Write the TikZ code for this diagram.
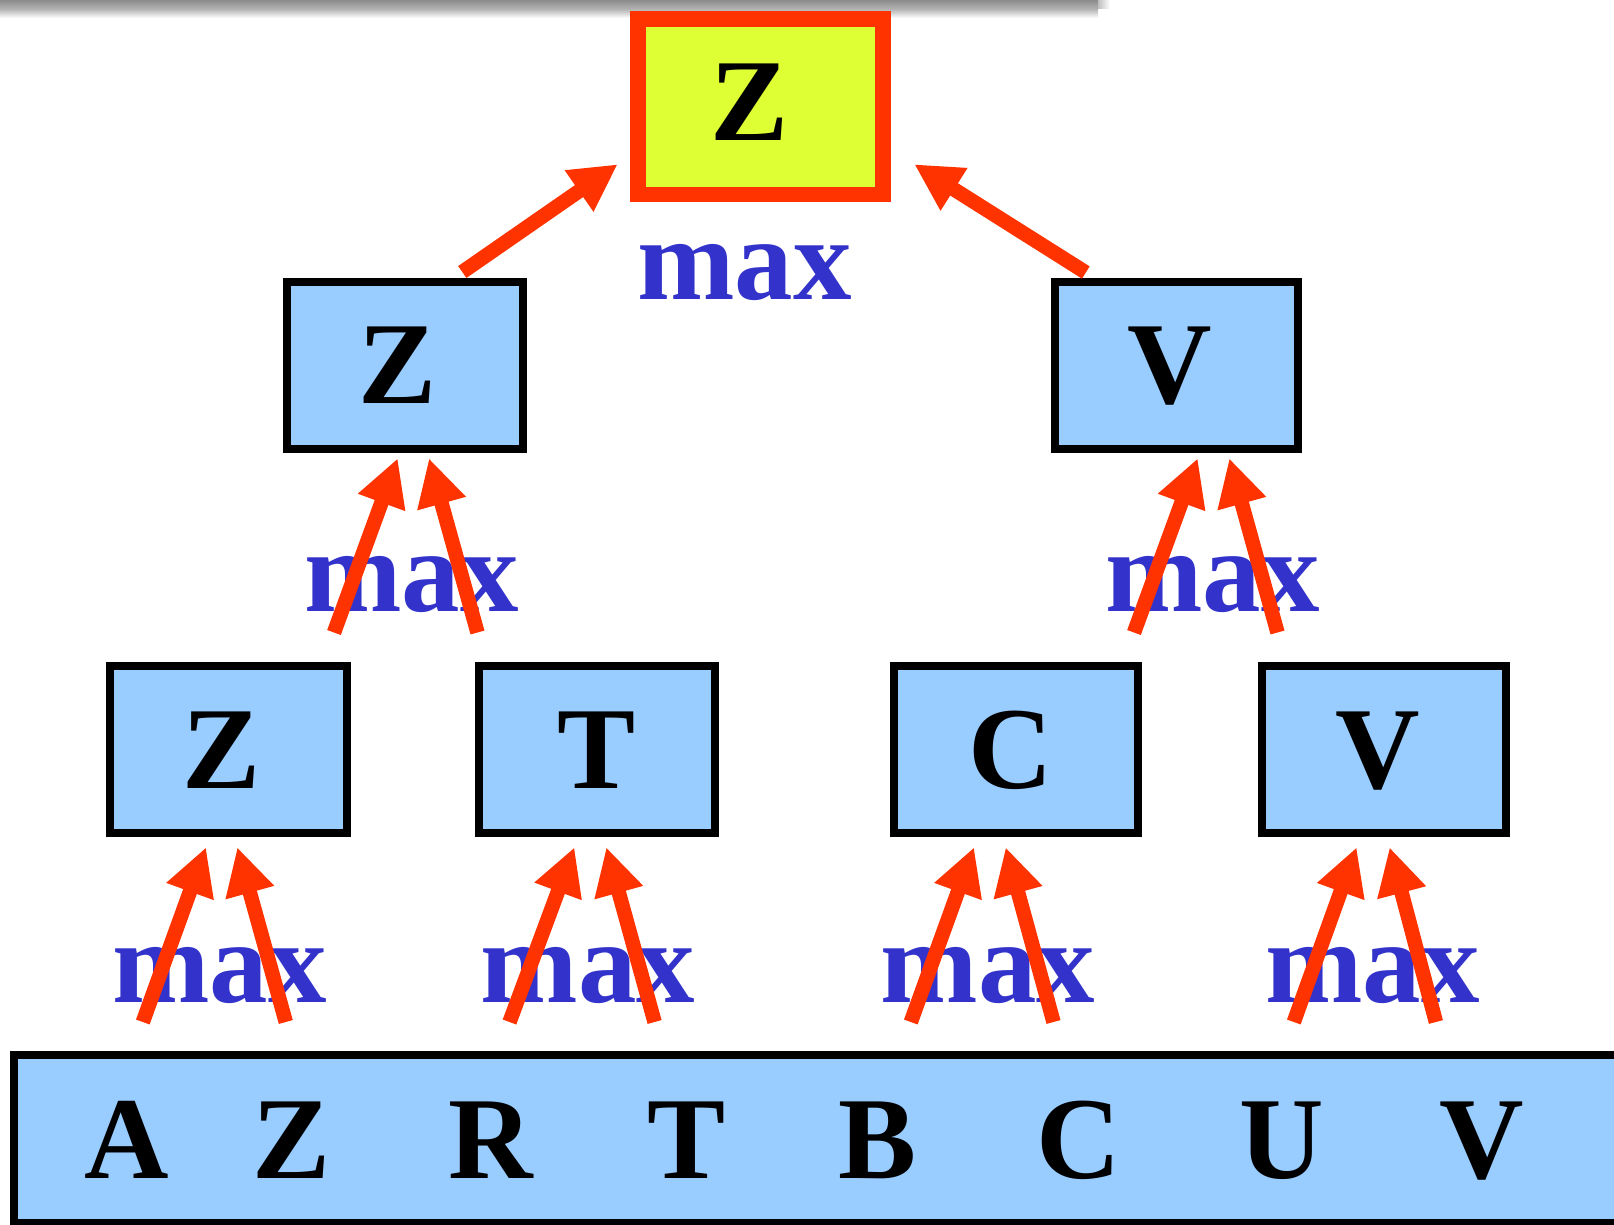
\documentclass[tikz,border=0pt]{standalone}
\usepackage{fontspec}
\setmainfont{Liberation Serif}
\usetikzlibrary{arrows.meta}
\definecolor{boxblue}{RGB}{153,204,255}
\definecolor{rootfill}{RGB}{221,255,51}
\definecolor{arrowred}{RGB}{255,51,0}
\definecolor{maxblue}{RGB}{51,51,204}

\begin{document}
\begin{tikzpicture}[x=1pt,y=-1pt,
  box/.style={draw=black, line width=8pt, fill=boxblue, inner sep=0pt, outer sep=0pt, minimum height=167pt},
  rootbox/.style={draw=arrowred, line width=15.7pt, fill=rootfill, inner sep=0pt, outer sep=0pt,
                  minimum width=245.2pt, minimum height=175.7pt},
  glyph/.style={font=\fontsize{117}{117}\selectfont\bfseries, anchor=base, inner sep=0pt},
  oplabel/.style={glyph, text=maxblue},
  uparrow/.style={draw=arrowred, line width=14.5pt, -{Triangle[length=47pt,width=47pt]}},
]
\useasboundingbox (0,0) rectangle (1614,1225);

% soft shadow along the top edge
\shade[top color=black!45, bottom color=white, middle color=black!30] (0,0) rectangle (1098,18);
\shade[left color=black!25, right color=white] (1098,0) rectangle (1110,9);

% tree of maxima
\node[rootbox] (root) at (760.4,106.65) {};
\node[box, minimum width=236pt]   (m1) at (405,365.5) {};
\node[box, minimum width=242.5pt] (m2) at (1176.25,365.5) {};
\node[box, minimum width=237pt]   (b1) at (228.5,749.3) {};
\node[box, minimum width=236pt]   (b2) at (596.5,749.3) {};
\node[box, minimum width=243.2pt] (b3) at (1015.9,749.3) {};
\node[box, minimum width=244.2pt] (b4) at (1383.9,749.3) {};
\node[box, minimum width=1626pt, minimum height=168pt, line width=7.7pt] (bar) at (827,1139) {};

% letters in the boxes
\node[glyph] (rootZ) at (749.5,141) {Z};
\node[glyph] (m1Z) at (397.8,403.5) {Z};
\node[glyph] (m2V) at (1169.8,403.5) {V};
\node[glyph] (b1Z) at (221.8,788.5) {Z};
\node[glyph] (b2T) at (597,788.5) {T};
\node[glyph] (b3C) at (1010.3,788.5) {C};
\node[glyph] (b4V) at (1377.7,788.5) {V};

% input sequence
\node[glyph] (lA) at (126.6,1178.5) {A};
\node[glyph] (lZ) at (291.3,1178.5) {Z};
\node[glyph] (lR) at (491,1178.5) {R};
\node[glyph] (lT) at (686.5,1178.5) {T};
\node[glyph] (lB) at (878,1178.5) {B};
\node[glyph] (lC) at (1078.7,1178.5) {C};
\node[glyph] (lU) at (1281.5,1178.5) {U};
\node[glyph] (lV) at (1482.2,1178.5) {V};

% operator labels
\node[oplabel] (op0) at (744.3,299.3) {max};
\node[oplabel] (op1) at (411.7,611.7) {max};
\node[oplabel] (op2) at (1212.3,611.7) {max};
\node[oplabel] (op3) at (219.5,1002.7) {max};
\node[oplabel] (op4) at (588.2,1002.7) {max};
\node[oplabel] (op5) at (988,1002.7) {max};
\node[oplabel] (op6) at (1372.6,1002.7) {max};

% arrows: inputs to first level
\draw[uparrow] ([shift={(16.2,-156.5)}]lA.base) -- ([shift={(-22.5,14.5)}]b1.south);
\draw[uparrow] ([shift={(-5.5,-156.5)}]lZ.base) -- ([shift={(8.8,14.5)}]b1.south);
\draw[uparrow] ([shift={(18.5,-156.5)}]lR.base) -- ([shift={(-22.1,14.5)}]b2.south);
\draw[uparrow] ([shift={(-31.9,-156.5)}]lT.base) -- ([shift={(9.8,14.5)}]b2.south);
\draw[uparrow] ([shift={(32.8,-156.5)}]lB.base) -- ([shift={(-41.9,14.5)}]b3.south);
\draw[uparrow] ([shift={(-25.2,-156.5)}]lC.base) -- ([shift={(-10.2,14.5)}]b3.south);
\draw[uparrow] ([shift={(12.3,-156.5)}]lU.base) -- ([shift={(-27.3,14.5)}]b4.south);
\draw[uparrow] ([shift={(-46.3,-156.5)}]lV.base) -- ([shift={(5.7,14.5)}]b4.south);

% arrows: first level to second level
\draw[uparrow] ([shift={(105.5,-33.3)}]b1.north) -- ([shift={(-7.3,9.3)}]m1.south);
\draw[uparrow] ([shift={(-119,-33.3)}]b2.north) -- ([shift={(24,9.3)}]m1.south);
\draw[uparrow] ([shift={(118.1,-33.3)}]b3.north) -- ([shift={(21.45,9.3)}]m2.south);
\draw[uparrow] ([shift={(-106.4,-33.3)}]b4.north) -- ([shift={(53.05,9.3)}]m2.south);

% arrows: second level to root
\draw[uparrow] ([shift={(57.3,-10)}]m1.north) -- ([shift={(-20.1,57.65)}]root.west);
\draw[uparrow] ([shift={(-90.45,-9.5)}]m2.north) -- ([shift={(31.3,57.65)}]root.east);
\end{tikzpicture}
\end{document}
